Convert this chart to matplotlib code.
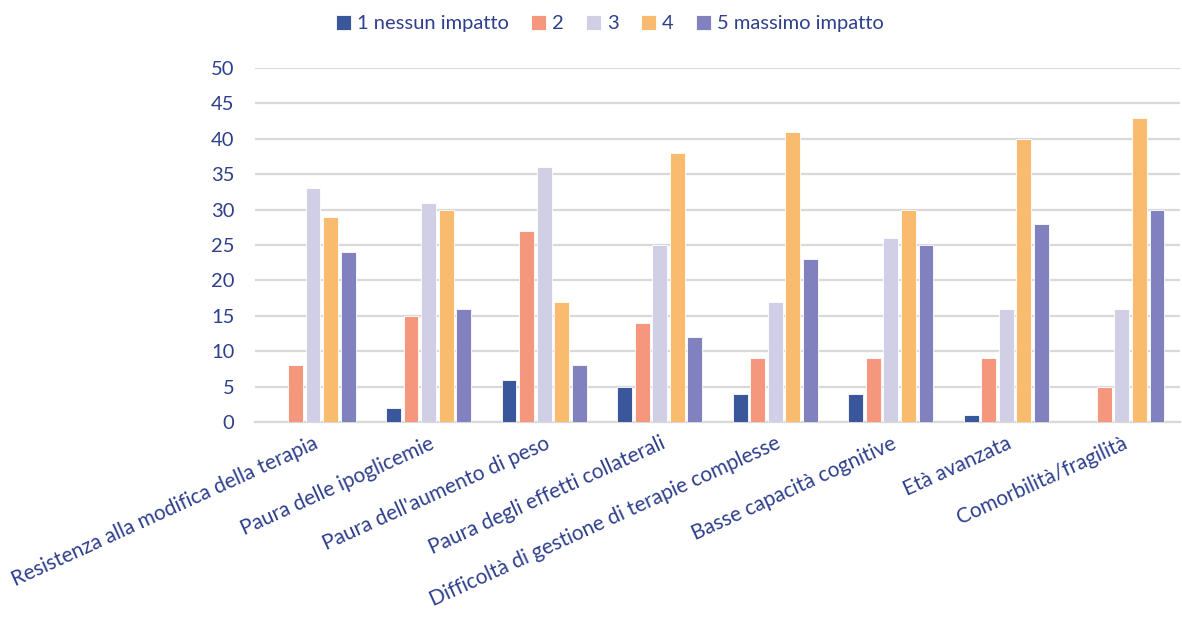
import matplotlib
matplotlib.use("Agg")
import matplotlib.pyplot as plt
import numpy as np

categories = [
    "Resistenza alla modifica della terapia",
    "Paura delle ipoglicemie",
    "Paura dell'aumento di peso",
    "Paura degli effetti collaterali",
    "Difficoltà di gestione di terapie complesse",
    "Basse capacità cognitive",
    "Età avanzata",
    "Comorbilità/fragilità",
]
series_names = ["1 nessun impatto", "2", "3", "4", "5 massimo impatto"]
s1 = [0, 2, 6, 5, 4, 4, 1, 0]
s2 = [8, 15, 27, 14, 9, 9, 9, 5]
s3 = [33, 31, 36, 25, 17, 26, 16, 16]
s4 = [29, 30, 17, 38, 41, 30, 40, 43]
s5 = [24, 16, 8, 12, 23, 25, 28, 30]
y_ticks = [0, 5, 10, 15, 20, 25, 30, 35, 40, 45, 50]

colors = ["#3A579C", "#F4977C", "#D1CFE6", "#F9BB6E", "#8181BF"]
text_color = "#2E3F8C"

plt.rcParams["font.family"] = ["Lato", "DejaVu Sans"]

fig = plt.figure(figsize=(11.82, 6.18), dpi=100)
ax = fig.add_axes([0.216, 0.317, 0.782, 0.573])

x = np.arange(len(categories))
pitch = 0.152
width = 0.128
all_series = [s1, s2, s3, s4, s5]
for i, (vals, name, c) in enumerate(zip(all_series, series_names, colors)):
    ax.bar(x + (i - 2) * pitch, vals, width, color=c, label=name,
           edgecolor="white", linewidth=0.6, zorder=3)

ax.set_xlim(-0.5, len(categories) - 0.5)
ax.set_ylim(0, 50)
ax.set_yticks(y_ticks)
ax.yaxis.grid(True, color="#D9D9D9", linewidth=1.6, zorder=0)
ax.set_axisbelow(True)
for side in ["top", "right", "left"]:
    ax.spines[side].set_visible(False)
ax.spines["bottom"].set_color("#D9D9D9")
ax.spines["bottom"].set_linewidth(1.6)
ax.tick_params(axis="both", length=0, colors=text_color, labelsize=14.5)
ax.tick_params(axis="y", pad=15)
ax.set_xticks(x)
ax.set_xticklabels(categories, rotation=24.5, ha="right", rotation_mode="anchor",
                   fontsize=15, color=text_color)
ax.tick_params(axis="x", pad=8)

leg = fig.legend(loc="upper center", bbox_to_anchor=(0.516, 1.005), ncol=5,
                 frameon=False, fontsize=14.5, handlelength=0.75, handleheight=0.75,
                 handletextpad=0.3, columnspacing=1.1)
for t in leg.get_texts():
    t.set_color(text_color)

fig.savefig("out.png", dpi=100)
